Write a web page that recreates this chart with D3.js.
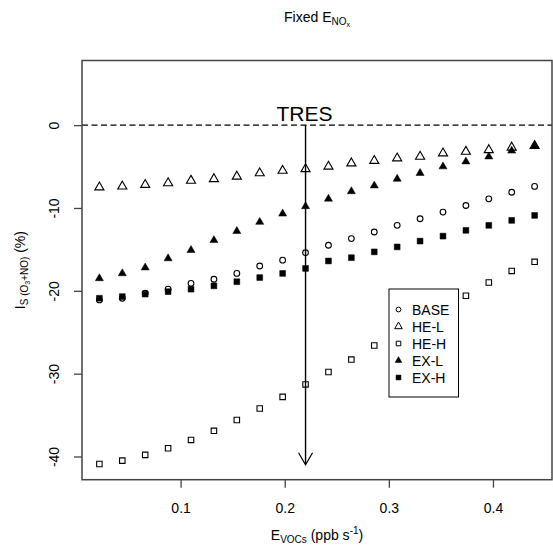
<!DOCTYPE html>
<html>
<head>
<meta charset="utf-8">
<script src="https://cdn.jsdelivr.net/npm/d3@7"></script>
<style>
	body {
		margin: 0;
		background: #fff;
	}
	svg {
		display: block;
		font-family: "Liberation Sans", Arial, sans-serif;
	}
</style>
</head>
<body>
<div id="chart"></div>
<script>
// emission rates of VOCs (x) and sensitivity of each scenario (y, %)
const eVocs = [0.022, 0.044, 0.066, 0.088, 0.11, 0.132, 0.154, 0.176, 0.198, 0.22,
	0.242, 0.264, 0.286, 0.308, 0.33, 0.352, 0.374, 0.396, 0.418, 0.44];
const base = [-21.1, -20.9, -20.3, -19.8, -19.1, -18.6, -17.9, -17.0, -16.3, -15.4,
	-14.5, -13.7, -12.9, -12.1, -11.3, -10.5, -9.7, -8.9, -8.1, -7.4];
const heL = [-7.5, -7.4, -7.2, -7.0, -6.7, -6.5, -6.2, -5.8, -5.5, -5.3,
	-5.0, -4.6, -4.3, -4.0, -3.8, -3.4, -3.2, -3.0, -2.7, -2.5];
const heH = [-40.9, -40.5, -39.8, -39.0, -38.0, -36.9, -35.6, -34.2, -32.8, -31.3,
	-29.8, -28.3, -26.6, -25.0, -23.6, -22.1, -20.6, -19.0, -17.6, -16.5];
const exL = [-18.5, -17.9, -17.2, -16.1, -15.1, -13.9, -12.8, -11.7, -10.7, -9.8,
	-8.9, -8.0, -7.3, -6.5, -5.8, -5.0, -4.4, -3.8, -3.1, -2.5];
const exH = [-20.9, -20.7, -20.4, -20.1, -19.8, -19.4, -18.9, -18.4, -17.9, -17.3,
	-16.4, -16.0, -15.3, -14.7, -14.0, -13.4, -12.7, -12.1, -11.5, -10.9];

const seriesNames = ["BASE", "HE-L", "HE-H", "EX-L", "EX-H"];
const xTicks = [0.1, 0.2, 0.3, 0.4];
const yTicks = [0, -10, -20, -30, -40];
const tresX = 0.22;
const tresArrow = [0, -41];

const width = 553;
const height = 548;
const box = { left: 82, right: 552, top: 60.5, bottom: 479.7 };

const svg = d3.select("#chart")
	.append("svg")
	.attr("width", width)
	.attr("height", height);

svg.append("rect").attr("width", width).attr("height", height).attr("fill", "#fff");

const x = d3.scaleLinear().domain([0.0053, 0.4567]).range([box.left, box.right]);
const y = d3.scaleLinear().domain([-42.8, 7.8]).range([box.bottom, box.top]);

// symbol per series: open circle, open triangle, open square, filled triangle, filled square
const shapes = [
	{ type: d3.symbolCircle, size: 26, fill: "none" },
	{ type: d3.symbolTriangle, size: 36, fill: "none" },
	{ type: d3.symbolSquare, size: 30, fill: "none" },
	{ type: d3.symbolTriangle, size: 28, fill: "#000" },
	{ type: d3.symbolSquare, size: 34, fill: "#000" },
];
const allSeries = [base, heL, heH, exL, exH];

// zero line
svg.append("line")
	.attr("x1", box.left)
	.attr("x2", box.right)
	.attr("y1", y(0))
	.attr("y2", y(0))
	.attr("stroke", "#000")
	.attr("stroke-width", 1.2)
	.attr("stroke-dasharray", "6,3.5");

// points
allSeries.forEach((values, s) => {
	const sym = d3.symbol().type(shapes[s].type).size(shapes[s].size);
	svg.append("g")
		.selectAll("path")
		.data(values)
		.enter()
		.append("path")
		.attr("d", sym)
		.attr("transform", (d, i) => `translate(${x(eVocs[i])},${y(d)})`)
		.attr("fill", shapes[s].fill)
		.attr("stroke", "#000")
		.attr("stroke-width", shapes[s].fill === "none" ? 1.1 : 0.5);
});

// TRES arrow
const ax = x(tresX);
svg.append("line")
	.attr("x1", ax)
	.attr("x2", ax)
	.attr("y1", y(tresArrow[0]))
	.attr("y2", y(tresArrow[1]))
	.attr("stroke", "#000")
	.attr("stroke-width", 1.4);
svg.append("path")
	.attr("d", `M${ax - 7},${y(tresArrow[1]) - 12}L${ax},${y(tresArrow[1])}L${ax + 7},${y(tresArrow[1]) - 12}`)
	.attr("fill", "none")
	.attr("stroke", "#000")
	.attr("stroke-width", 1.2);
svg.append("text")
	.attr("x", ax - 1)
	.attr("y", y(0) - 4)
	.attr("text-anchor", "middle")
	.attr("font-size", "21px")
	.text("TRES");

// legend
const legend = svg.append("g");
legend.append("rect")
	.attr("x", 389)
	.attr("y", 289)
	.attr("width", 69.5)
	.attr("height", 108)
	.attr("fill", "#fff")
	.attr("stroke", "#000")
	.attr("stroke-width", 1);
seriesNames.forEach((name, s) => {
	const ly = 309.5 + s * 17;
	legend.append("path")
		.attr("d", d3.symbol().type(shapes[s].type).size(shapes[s].size * 0.7))
		.attr("transform", `translate(398.5,${ly})`)
		.attr("fill", shapes[s].fill)
		.attr("stroke", "#000")
		.attr("stroke-width", shapes[s].fill === "none" ? 1 : 0.5);
	legend.append("text")
		.attr("x", 412)
		.attr("y", ly + 5)
		.attr("font-size", "14px")
		.text(name);
});

// axes
const xAxis = d3.axisBottom(x).tickValues(xTicks).tickSize(8).tickSizeOuter(0).tickFormat(d3.format(".1f"));
const gx = svg.append("g")
	.attr("transform", `translate(0,${box.bottom})`)
	.call(xAxis);
gx.select(".domain").remove();
gx.selectAll("line").attr("stroke", "#444").attr("stroke-width", 1.3);
gx.selectAll("text")
	.attr("y", 33)
	.attr("dy", null)
	.attr("font-size", "14px")
	.attr("font-family", null)
	.attr("fill", "#000");

const yAxis = d3.axisLeft(y).tickValues(yTicks).tickSize(8).tickSizeOuter(0).tickFormat(d3.format("d"));
const gy = svg.append("g")
	.attr("transform", `translate(${box.left},0)`)
	.call(yAxis);
gy.select(".domain").remove();
gy.selectAll("line").attr("stroke", "#444").attr("stroke-width", 1.3);
gy.selectAll("text")
	.attr("transform", "rotate(-90)")
	.attr("x", 0)
	.attr("y", -23)
	.attr("dy", null)
	.attr("text-anchor", "middle")
	.attr("font-size", "14px")
	.attr("font-family", null)
	.attr("fill", "#000")
	.text((d) => d3.format("d")(d).replace("−", "-"));

// plot frame
svg.append("rect")
	.attr("x", box.left)
	.attr("y", box.top)
	.attr("width", box.right - box.left)
	.attr("height", box.bottom - box.top)
	.attr("fill", "none")
	.attr("stroke", "#444")
	.attr("stroke-width", 1.5);

// title and axis labels
const title = svg.append("text")
	.attr("x", (box.left + box.right) / 2)
	.attr("y", 22)
	.attr("text-anchor", "middle")
	.attr("font-size", "14px");
title.append("tspan").text("Fixed E");
title.append("tspan").attr("font-size", "10px").attr("dy", 3).text("NO");
title.append("tspan").attr("font-size", "7px").attr("dy", 2).text("x");

const xLabel = svg.append("text")
	.attr("x", (box.left + box.right) / 2)
	.attr("y", 540)
	.attr("text-anchor", "middle")
	.attr("font-size", "14px");
xLabel.append("tspan").text("E");
xLabel.append("tspan").attr("font-size", "10px").attr("dy", 3).text("VOCs");
xLabel.append("tspan").attr("dy", -3).text(" (ppb s");
xLabel.append("tspan").attr("font-size", "10px").attr("dy", -6).text("-1");
xLabel.append("tspan").attr("dy", 6).text(")");

const yLabel = svg.append("text")
	.attr("transform", `translate(25,${(box.top + box.bottom) / 2}) rotate(-90)`)
	.attr("text-anchor", "middle")
	.attr("font-size", "14px");
yLabel.append("tspan").text("I");
yLabel.append("tspan").attr("font-size", "10px").attr("dy", 3).text("S (O");
yLabel.append("tspan").attr("font-size", "7px").attr("dy", 2).text("3");
yLabel.append("tspan").attr("font-size", "10px").attr("dy", -2).text("+NO)");
yLabel.append("tspan").attr("dy", -3).text(" (%)");
</script>
</body>
</html>
